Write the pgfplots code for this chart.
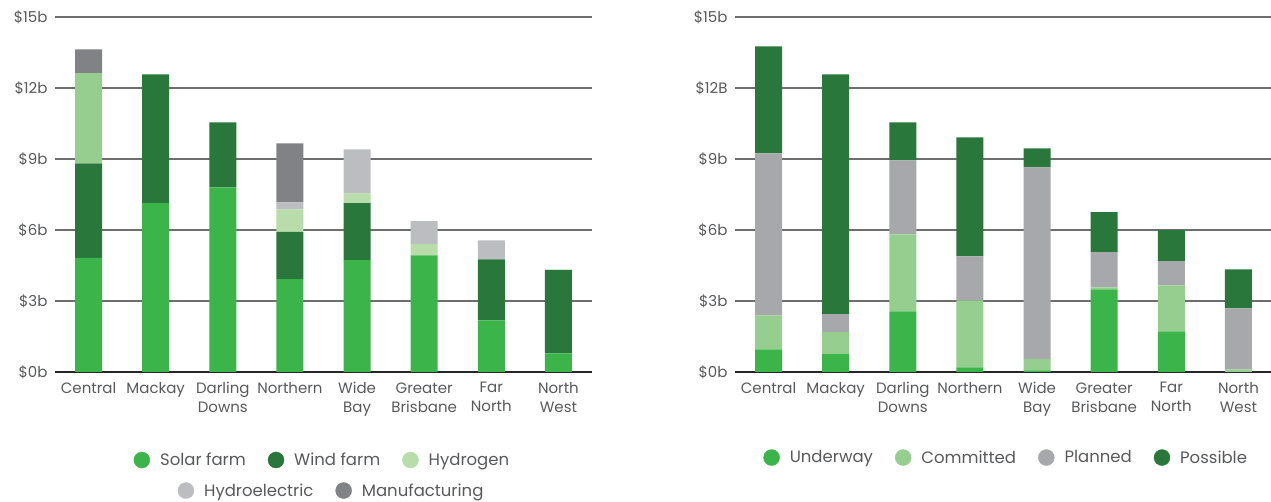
\documentclass[border=0pt]{standalone}
\usepackage{pgfplots}
\pgfplotsset{compat=1.18}
\usepackage{pgfplotstable}
\usepackage{fontspec}
\setmainfont{Poppins}
\definecolor{solar}{HTML}{3BB54A}
\definecolor{wind}{HTML}{2A773C}
\definecolor{hydrogen}{HTML}{B8DDAB}
\definecolor{hydrogenC}{HTML}{95CE8E}
\definecolor{hydroel}{HTML}{BCBDC0}
\definecolor{manuf}{HTML}{808285}
\definecolor{committed}{HTML}{95CE8E}
\definecolor{planned}{HTML}{A7A8AB}
\definecolor{txt}{HTML}{58595B}
\definecolor{gridc}{HTML}{6E6E6E}

\pgfplotstableread{
x solar wind hydC hydrogen hydroel manuf
0 4.82 4.00 3.80 0    0    1.01
1 7.13 5.45 0    0    0    0
2 7.80 2.75 0    0    0    0
3 3.92 2.00 0    0.95 0.30 2.49
4 4.73 2.40 0    0.42 1.86 0
5 4.93 0    0    0.47 0.97 0
6 2.18 2.58 0    0    0.80 0
7 0.79 3.51 0    0.04 0    0
}\lefttable

\pgfplotstableread{
x und com pla pos
0 0.96 1.43 6.85 4.52
1 0.75 0.93 0.76 10.14
2 2.56 3.26 3.12 1.61
3 0.20 2.83 1.86 5.02
4 0.07 0.47 8.11 0.80
5 3.49 0.09 1.48 1.69
6 1.72 1.94 1.02 1.31
7 0    0.11 2.58 1.65
}\righttable

\newcommand{\lblfont}{\fontsize{15}{19}\selectfont}
\newcommand{\legfont}{\fontsize{16.5}{19}\selectfont}

\pgfplotsset{
  myax/.style={
    scale only axis, width=537pt, height=355pt, anchor=south west,
    ybar stacked, bar width=27pt,
    xmin=-0.5, xmax=7.5, ymin=0, ymax=15,
    axis x line*=bottom, axis y line*=left,
    y axis line style={draw=none},
    x axis line style={-, line width=1.6pt, color=black!85},
    xtick={0,...,7}, ytick={0,3,6,9,12,15},
    major tick length=0pt,
    ymajorgrids, grid style={line width=1.3pt, color=gridc},
    xticklabels={Central, Mackay, Darling\\Downs, Northern, Wide\\Bay, Greater\\Brisbane, Far\\North, North\\West},
    xticklabel style={align=center, font=\lblfont, text=txt, yshift=-7pt},
    yticklabel style={font=\lblfont, text=txt, xshift=-4pt},
    every axis plot/.append style={draw=none},
  },
  legax/.style={
    scale only axis, width=537pt, height=355pt, anchor=south west,
    hide axis, xmin=0, xmax=1, ymin=0, ymax=1,
    legend columns=-1,
    legend style={draw=none, fill=none, font=\legfont, text=txt,
      /tikz/every even column/.append style={column sep=20pt},
      /tikz/every odd column/.append style={column sep=8pt}},
  },
  dot/.style={legend image code/.code={\fill[#1] (8pt,0pt) circle (8pt);}},
}

\begin{document}
\begin{tikzpicture}
\useasboundingbox (0,0) rectangle (1271pt,502pt);

% Left chart
\begin{axis}[myax, at={(55pt,130pt)},
  yticklabels={\$0b,\$3b,\$6b,\$9b,\$12b,\$15b}]
\addplot[fill=solar] table[x=x,y=solar]{\lefttable};
\addplot[fill=wind] table[x=x,y=wind]{\lefttable};
\addplot[fill=hydrogenC] table[x=x,y=hydC]{\lefttable};
\addplot[fill=hydrogen] table[x=x,y=hydrogen]{\lefttable};
\addplot[fill=hydroel] table[x=x,y=hydroel]{\lefttable};
\addplot[fill=manuf] table[x=x,y=manuf]{\lefttable};
\end{axis}

\begin{axis}[legax, at={(55pt,130pt)}, legend style={at={(0.498,-0.248)}, anchor=center}]
\addlegendimage{dot=solar}
\addlegendimage{dot=wind}
\addlegendimage{dot=hydrogen}
\legend{Solar farm, Wind farm, Hydrogen}
\end{axis}
\begin{axis}[legax, at={(55pt,130pt)}, legend style={at={(0.515,-0.334)}, anchor=center}]
\addlegendimage{dot=hydroel}
\addlegendimage{dot=manuf}
\legend{Hydroelectric, Manufacturing}
\end{axis}

% Right chart
\begin{axis}[myax, at={(735pt,130pt)},
  yticklabels={\$0b,\$3b,\$6b,\$9b,\$12B,\$15b}]
\addplot[fill=solar] table[x=x,y=und]{\righttable};
\addplot[fill=committed] table[x=x,y=com]{\righttable};
\addplot[fill=planned] table[x=x,y=pla]{\righttable};
\addplot[fill=wind] table[x=x,y=pos]{\righttable};
\end{axis}

\begin{axis}[legax, at={(735pt,130pt)}, legend style={at={(0.505,-0.241)}, anchor=center}]
\addlegendimage{dot=solar}
\addlegendimage{dot=committed}
\addlegendimage{dot=planned}
\addlegendimage{dot=wind}
\legend{Underway, Committed, Planned, Possible}
\end{axis}
\end{tikzpicture}
\end{document}
